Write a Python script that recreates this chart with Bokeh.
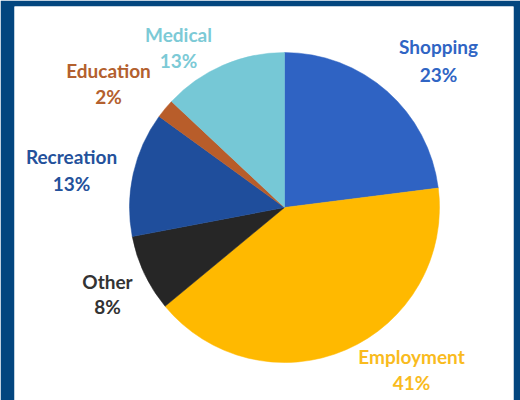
import numpy as np
from bokeh.plotting import figure
from bokeh.models import Range1d, ColumnDataSource
from bokeh.core.properties import value
from bokeh.embed import file_html
from bokeh.resources import INLINE

# ---- data ----
categories = ["Shopping", "Employment", "Other", "Recreation", "Education", "Medical"]
percents = [23, 41, 8, 13, 2, 13]
slice_colors = ["#2f63c3", "#ffb900", "#262626", "#1f4e9c", "#b85d2a", "#76c8d6"]
label_colors = ["#3065c4", "#f9bb1e", "#333333", "#24519b", "#b3602e", "#7ccad6"]

# ---- layout (reference pixel space, y measured from top) ----
label_x = [438, 411, 107, 71, 108, 178]
name_base = [46, 356, 281, 156, 70, 34]
pct_base = [74, 382, 306, 183, 96, 60]
CX, CY, R = 284, 207, 155
H = 400

W_FIG, H_FIG = 520, 400
p = figure(width=W_FIG, height=H_FIG, output_backend="svg", toolbar_location=None,
           x_range=Range1d(14, 513), y_range=Range1d(0, 394),
           min_border_left=14, min_border_right=7, min_border_top=6, min_border_bottom=0)
p.border_fill_color = "#03467f"
p.background_fill_color = "white"
p.outline_line_color = None
p.axis.visible = False
p.grid.visible = False

vals = np.array(percents, dtype=float)
frac = vals / vals.sum()
cum_end = np.cumsum(frac)
cum_start = cum_end - frac
start = np.pi / 2 - cum_end * 2 * np.pi
end = np.pi / 2 - cum_start * 2 * np.pi

src = ColumnDataSource(dict(start=start, end=end, color=slice_colors, cat=categories))
p.wedge(x=CX, y=H - CY, radius=R, start_angle="start", end_angle="end",
        fill_color="color", line_color="color", line_width=0.5, source=src)

lab = ColumnDataSource(dict(
    x=label_x,
    yn=[H - v for v in name_base],
    yp=[H - v for v in pct_base],
    name=categories,
    pct=[f"{v}%" for v in percents],
    color=label_colors,
))
for col in ("yn", "yp"):
    p.text(x="x", y=col, text="name" if col == "yn" else "pct", source=lab,
           text_color="color", text_font=value("Lato"), text_font_style="bold",
           text_font_size="19px", text_align="center", text_baseline="alphabetic")

open("out.html", "w").write(file_html(p, INLINE))
